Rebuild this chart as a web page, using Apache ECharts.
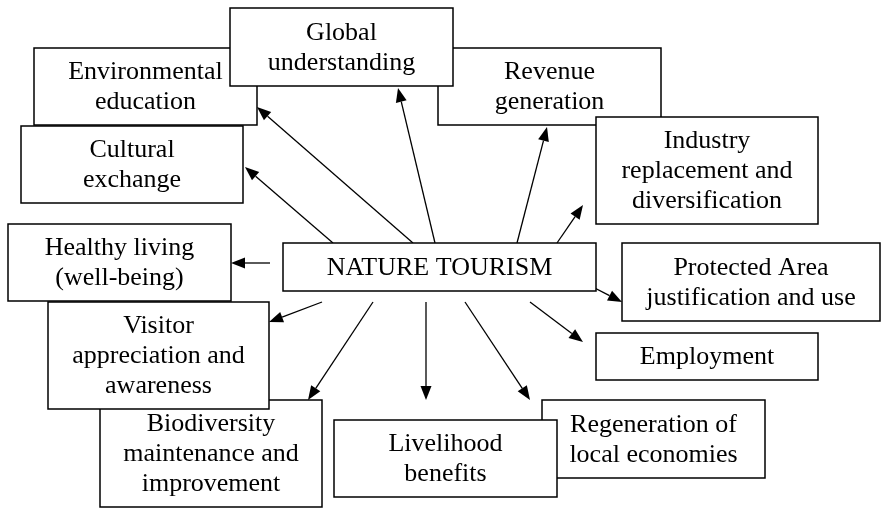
<!DOCTYPE html>
<html>
<head>
<meta charset="utf-8">
<script src="https://cdn.jsdelivr.net/npm/echarts@6/dist/echarts.min.js"></script>
<style>
  html, body { margin: 0; padding: 0; background: #fff; }
  #main { width: 881px; height: 508px; }
</style>
</head>
<body>
<div id="main"></div>
<script>
// boxes, listed in drawing order (later ones sit on top)
const labels = [
  'Environmental\neducation',
  'Revenue\ngeneration',
  'Global\nunderstanding',
  'Industry\nreplacement and\ndiversification',
  'Cultural\nexchange',
  'Healthy living\n(well-being)',
  'Biodiversity\nmaintenance and\nimprovement',
  'Visitor\nappreciation and\nawareness',
  'Regeneration of\nlocal economies',
  'Livelihood\nbenefits',
  'NATURE TOURISM',
  'Protected Area\njustification and use',
  'Employment'
];
const boxLeft   = [34, 438, 230, 596, 21, 8, 100, 48, 542, 334, 283, 622, 596];
const boxTop    = [48, 48, 8, 117, 126, 224, 400, 302, 400, 420, 243, 243, 333];
const boxRight  = [257, 661, 453, 818, 243, 231, 322, 269, 765, 557, 596, 880, 818];
const boxBottom = [125, 125, 86, 224, 203, 301, 507, 409, 478, 497, 291, 321, 380];

// arrows from the centre box out to each effect
const arrowFrom = [
  [413, 243], [333, 243], [435, 243], [517, 243], [557, 243],
  [270, 263], [322, 302], [373, 302], [426, 302], [465, 302],
  [530, 302], [583, 282]
];
const arrowTo = [
  [257, 107], [245, 167], [398, 88], [547, 127], [583, 205],
  [231, 263], [269, 322], [308, 400], [426, 400], [530, 400],
  [583, 342], [622, 302]
];

var chart = echarts.init(document.getElementById('main'));

var boxData = labels.map(function (l, i) {
  return [boxLeft[i], boxTop[i], boxRight[i], boxBottom[i]];
});
var arrowData = arrowFrom.map(function (p, i) {
  return [p[0], p[1], arrowTo[i][0], arrowTo[i][1]];
});

var option = {
  animation: false,
  backgroundColor: '#fff',
  grid: { left: 0, right: 0, top: 0, bottom: 0 },
  xAxis: { type: 'value', min: 0, max: 881, show: false },
  yAxis: { type: 'value', min: 0, max: 508, inverse: true, show: false },
  series: [
    {
      type: 'custom',
      z: 2,
      clip: false,
      data: arrowData,
      renderItem: function (params, api) {
        var a = api.coord([api.value(0), api.value(1)]);
        var b = api.coord([api.value(2), api.value(3)]);
        var dx = b[0] - a[0], dy = b[1] - a[1];
        var len = Math.sqrt(dx * dx + dy * dy);
        var ux = dx / len, uy = dy / len;
        var hl = 14, hw = 5.5;
        var base = [b[0] - ux * hl, b[1] - uy * hl];
        return {
          type: 'group',
          children: [
            {
              type: 'line',
              shape: { x1: a[0], y1: a[1], x2: base[0], y2: base[1] },
              style: { stroke: '#000', lineWidth: 1.3 }
            },
            {
              type: 'polygon',
              shape: {
                points: [
                  b,
                  [base[0] - uy * hw, base[1] + ux * hw],
                  [base[0] + uy * hw, base[1] - ux * hw]
                ]
              },
              style: { fill: '#000' }
            }
          ]
        };
      }
    },
    {
      type: 'custom',
      z: 3,
      clip: false,
      data: boxData,
      renderItem: function (params, api) {
        var p1 = api.coord([api.value(0), api.value(1)]);
        var p2 = api.coord([api.value(2), api.value(3)]);
        return {
          type: 'group',
          children: [
            {
              type: 'rect',
              shape: { x: p1[0], y: p1[1], width: p2[0] - p1[0], height: p2[1] - p1[1] },
              style: { fill: '#fff', stroke: '#000', lineWidth: 1.5 }
            },
            {
              type: 'text',
              style: {
                text: labels[params.dataIndex],
                x: (p1[0] + p2[0]) / 2,
                y: (p1[1] + p2[1]) / 2 + 1,
                align: 'center',
                verticalAlign: 'middle',
                fontFamily: 'Liberation Serif',
                fontSize: 26,
                lineHeight: 30,
                fill: '#000'
              }
            }
          ]
        };
      }
    }
  ]
};
chart.setOption(option);
</script>
</body>
</html>
